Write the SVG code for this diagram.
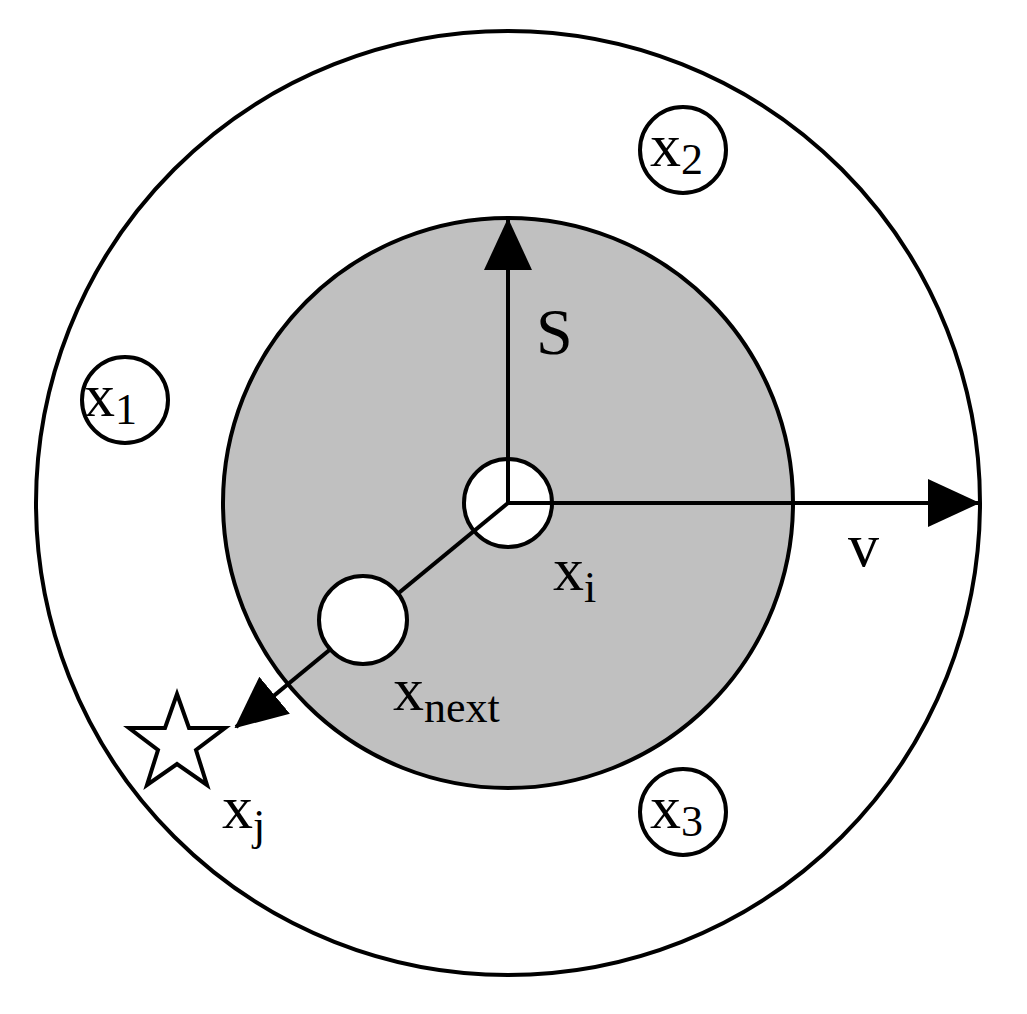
<svg xmlns="http://www.w3.org/2000/svg" width="1027" height="1014" viewBox="0 0 1027 1014">
<style>
.c{fill:#fff;stroke:#000;stroke-width:4}
.t{font-family:"Liberation Serif",serif;font-size:62px;fill:#000}
.s{font-size:44px}
.a{stroke:#000;stroke-width:4;fill:none}
</style>
<defs><marker id="ah2" markerWidth="52" markerHeight="52" refX="50" refY="26" orient="auto" markerUnits="userSpaceOnUse"><path d="M0,2 L52,26 L0,50 Z" fill="#000"/></marker></defs>
<rect width="1027" height="1014" fill="#fff"/>
<g id="outer"><circle class="c" cx="508" cy="503" r="472"/></g>
<g id="inner"><circle cx="508" cy="503" r="285" fill="#c0c0c0" stroke="#000" stroke-width="4"/></g>
<g id="xi"><circle class="c" cx="508" cy="503" r="44"/><text class="t" x="553" y="590">x<tspan class="s" dy="12">i</tspan></text></g>
<g id="connectors">
<line class="a" x1="508" y1="503" x2="508" y2="220" marker-end="url(#ah2)"/>
<line class="a" x1="508" y1="503" x2="978" y2="503" marker-end="url(#ah2)"/>
<line class="a" x1="508" y1="503" x2="236" y2="727" marker-end="url(#ah2)"/>
</g>
<g id="xnext"><circle class="c" cx="363" cy="620" r="44"/><text class="t" x="393" y="710">x<tspan class="s" dy="12">next</tspan></text></g>
<g id="x1"><circle class="c" cx="125" cy="400" r="43"/><text class="t" x="84" y="416">x<tspan class="s" dy="8">1</tspan></text></g>
<g id="x2"><circle class="c" cx="683" cy="150" r="43"/><text class="t" x="650" y="166">x<tspan class="s" dy="8">2</tspan></text></g>
<g id="x3"><circle class="c" cx="683" cy="812" r="43"/><text class="t" x="650" y="828">x<tspan class="s" dy="8">3</tspan></text></g>
<g id="xj"><polygon class="c" points="177,694 189,728 225,728 196,750 207,785 177,764 147,785 158,750 129,728 165,728"/><text class="t" x="222" y="828">x<tspan class="s" dy="12">j</tspan></text></g>
<g id="labels"><text class="t" x="536" y="354" style="font-size:66px">S</text><text class="t" x="848" y="566">v</text></g>
</svg>
